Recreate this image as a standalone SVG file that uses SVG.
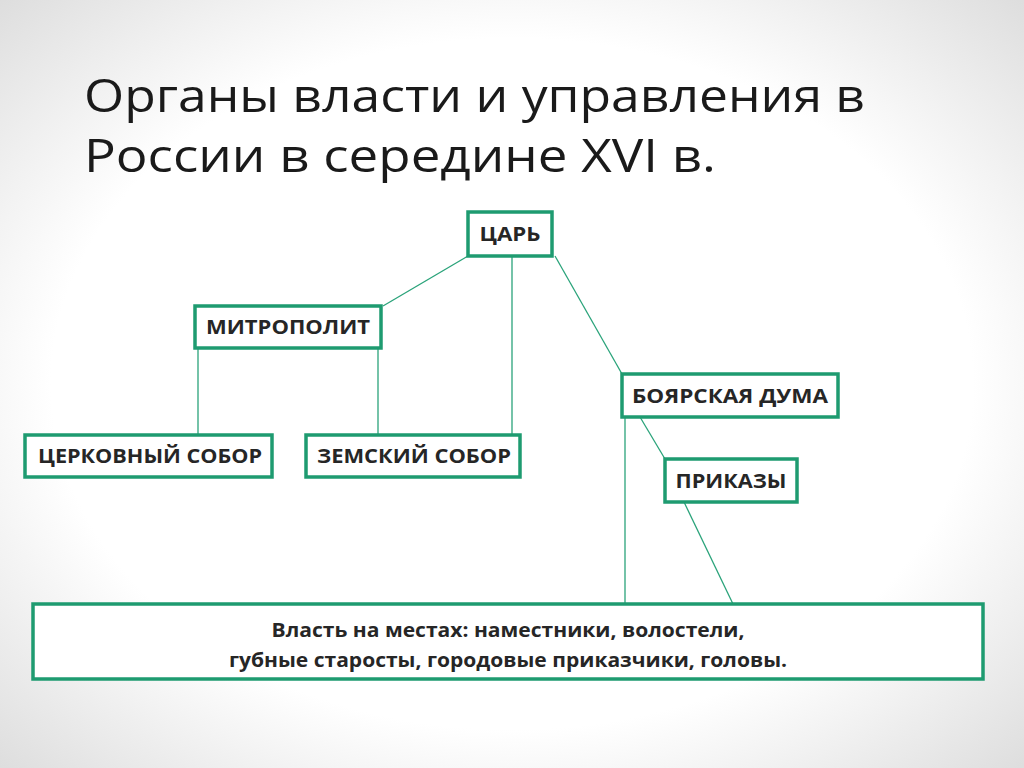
<svg xmlns="http://www.w3.org/2000/svg" width="1024" height="768" viewBox="0 0 1024 768">
<defs>
<radialGradient id="bg" cx="50%" cy="50%" r="75%">
<stop offset="0.6" stop-color="#ffffff"/><stop offset="1" stop-color="#d8d8d8"/>
</radialGradient>
<style>
.box{fill:#fff;stroke:#1e9b70;stroke-width:3.5}
.lbl{font-family:"Open Sans","Liberation Sans",sans-serif;font-weight:bold;font-size:19px;fill:#262626;text-anchor:middle}
.ttl{font-family:"Open Sans","Liberation Sans",sans-serif;font-size:46px;fill:#1a1a1a}
.con line{stroke:#2aa37a;stroke-width:1.3}
</style>
</defs>
<rect width="1024" height="768" fill="url(#bg)"/>
<text class="ttl" x="84" y="112" textLength="781" lengthAdjust="spacingAndGlyphs">Органы власти и управления в</text>
<text class="ttl" x="84" y="172" textLength="632" lengthAdjust="spacingAndGlyphs">России в середине XVI в.</text>
<g class="con">
<line x1="468" y1="256" x2="383" y2="306"/>
<line x1="512" y1="256" x2="512" y2="435"/>
<line x1="555" y1="256" x2="622" y2="374"/>
<line x1="198" y1="348" x2="198" y2="435"/>
<line x1="378" y1="348" x2="378" y2="435"/>
<line x1="625" y1="417" x2="625" y2="604"/>
<line x1="640" y1="417" x2="665" y2="459"/>
<line x1="684" y1="502" x2="733" y2="604"/>
</g>
<g id="tsar"><rect class="box" x="468" y="212" width="84" height="44"/><text class="lbl" x="510" y="241" textLength="61" lengthAdjust="spacingAndGlyphs">ЦАРЬ</text></g>
<g id="metropolit"><rect class="box" x="195" y="306" width="186" height="42"/><text class="lbl" x="288" y="334" textLength="164" lengthAdjust="spacingAndGlyphs">МИТРОПОЛИТ</text></g>
<g id="duma"><rect class="box" x="622" y="374" width="216" height="43"/><text class="lbl" x="730" y="403" textLength="196" lengthAdjust="spacingAndGlyphs">БОЯРСКАЯ ДУМА</text></g>
<g id="church"><rect class="box" x="25" y="435" width="247" height="42"/><text class="lbl" x="150" y="463" textLength="224" lengthAdjust="spacingAndGlyphs">ЦЕРКОВНЫЙ СОБОР</text></g>
<g id="zemsky"><rect class="box" x="306" y="435" width="214" height="42"/><text class="lbl" x="414" y="463" textLength="194" lengthAdjust="spacingAndGlyphs">ЗЕМСКИЙ СОБОР</text></g>
<g id="prikazy"><rect class="box" x="665" y="459" width="132" height="43"/><text class="lbl" x="731" y="488" textLength="111" lengthAdjust="spacingAndGlyphs">ПРИКАЗЫ</text></g>
<g id="local"><rect class="box" x="33" y="604" width="950" height="75"/>
<text class="lbl" x="508" y="637" textLength="473" lengthAdjust="spacingAndGlyphs">Власть на местах: наместники, волостели,</text>
<text class="lbl" x="508" y="667" textLength="558" lengthAdjust="spacingAndGlyphs">губные старосты, городовые приказчики, головы.</text></g>
</svg>
